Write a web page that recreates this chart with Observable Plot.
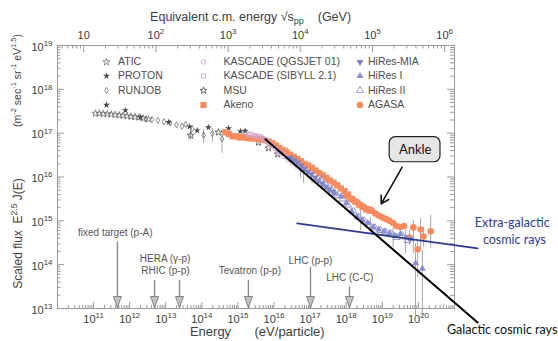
<!DOCTYPE html>
<html>
<head>
<meta charset="utf-8">
<script src="https://cdn.jsdelivr.net/npm/d3@7"></script>
<script src="https://cdn.jsdelivr.net/npm/@observablehq/plot@0.6"></script>
<style>
html,body{margin:0;padding:0;background:#fff;}
#chart svg{display:block;}
#chart svg text{white-space:pre;}
</style>
</head>
<body>
<div id="chart"></div>
<script>
// ---- data: [log10 E (eV), log10 (E^2.5 J)] ----
const atic = [[11.05,17.45],[11.16,17.45],[11.27,17.44],[11.38,17.44],[11.49,17.43],[11.60,17.42],[11.71,17.41],[11.82,17.40],[11.93,17.39],[12.04,17.38],[12.15,17.37],[12.26,17.36],[12.37,17.34],[12.52,17.32]];
const proton = [[11.88,17.52],[12.30,17.36],[13.08,17.25],[13.66,17.15],[13.87,17.06]];
const runjob = [[12.45,17.33],[12.62,17.31],[12.78,17.29],[12.95,17.26],[13.12,17.23],[13.30,17.19],[13.45,17.16],[13.55,17.20],[13.73,17.10],[14.05,16.95],[14.29,16.99],[14.56,16.87]];
const tibet = [[14.18,17.13],[14.74,17.11],[15.07,17.04],[15.20,17.05]];
const msu = [[13.69,16.95],[14.46,17.02],[15.57,16.79],[15.85,16.66],[16.10,16.52]];
const kascadeQ = [[15.26,16.99],[15.38,16.98],[15.50,16.95],[15.62,16.93],[15.74,16.86],[15.86,16.78],[15.98,16.69],[16.10,16.61],[16.22,16.53],[16.34,16.45],[16.46,16.38],[16.58,16.31],[16.70,16.24],[16.82,16.19]];
const kascadeS = [[15.32,16.96],[15.44,16.94],[15.56,16.92],[15.68,16.89],[15.80,16.82],[15.92,16.73],[16.04,16.64],[16.16,16.55],[16.28,16.47],[16.40,16.40],[16.52,16.32],[16.64,16.25],[16.76,16.18],[16.88,16.12]];
const akeno = [[14.65,17.02],[14.75,16.98],[14.85,16.93],[14.95,16.93],[15.05,16.90],[15.15,16.91],[15.25,16.89],[15.35,16.88],[15.45,16.88],[15.55,16.87],[15.65,16.86],[15.75,16.84],[15.85,16.81],[15.95,16.77],[16.05,16.72],[16.15,16.66],[16.25,16.61],[16.35,16.56],[16.45,16.51],[16.55,16.46],[16.65,16.41],[16.75,16.36],[16.85,16.30],[16.95,16.26],[17.05,16.21],[17.15,16.15],[17.25,16.09],[17.35,16.04],[17.45,15.98],[17.55,15.92],[17.65,15.87],[17.75,15.81],[17.85,15.74],[17.95,15.68],[18.05,15.60],[18.15,15.50],[18.25,15.44],[18.35,15.37],[18.45,15.32],[18.55,15.26],[18.65,15.23]];
const hiresMIA = [[16.46,16.44],[16.56,16.38],[16.65,16.33],[16.75,16.26],[16.84,16.19],[16.94,16.12],[17.04,16.06],[17.14,15.99],[17.23,15.92],[17.33,15.85],[17.43,15.78],[17.52,15.72],[17.62,15.67]];
const hiresI = [[17.70,15.62],[17.85,15.55],[18.00,15.40],[18.15,15.22],[18.30,15.10],[18.45,15.02],[18.60,14.95],[18.75,14.86],[18.90,14.80],[19.05,14.76],[19.20,14.72],[19.35,14.66],[19.50,14.70],[19.65,14.62],[19.80,14.58],[19.92,14.03],[20.11,13.91]];
const hiresII = [[17.30,15.95],[17.45,15.82],[17.60,15.70],[17.75,15.58],[17.90,15.50],[18.05,15.36],[18.20,15.22],[18.35,15.08],[18.50,15.00],[18.65,14.90],[18.80,14.84],[18.95,14.78],[19.10,14.74],[19.25,14.70],[19.40,14.62],[19.55,14.67],[19.70,14.55]];
const agasa = [[18.00,15.58],[18.10,15.52],[18.20,15.47],[18.30,15.42],[18.40,15.36],[18.50,15.31],[18.60,15.27],[18.70,15.24],[18.80,15.17],[18.90,15.12],[19.00,15.08],[19.10,15.04],[19.20,15.00],[19.30,14.95],[19.40,14.88],[19.50,14.86],[19.60,14.88],[19.75,14.62],[19.86,14.85],[19.98,14.35],[20.06,14.80],[20.14,14.64],[20.34,14.76]];
// error bars: [log10 E, low, high]
const errorBars = [[13.69,16.83,17.13],[14.05,16.76,17.08],[14.29,16.79,17.11],[14.56,16.54,17.06],[16.37,16.42,16.67],[16.73,15.97,16.42],[16.82,15.85,16.15],[17.05,15.85,16.20],[18.40,14.78,15.24],[18.67,14.71,15.08],[19.30,14.39,14.85],[19.64,14.25,14.78],[19.75,14.44,14.78],[19.86,14.25,15.01],[19.92,12.68,14.48],[19.98,13.71,14.55],[20.06,14.39,15.05],[20.11,12.80,14.32],[20.14,14.40,14.85],[20.34,14.37,15.12]];
// model lines
const galacticLine = [[15.76,16.86],[21.64,12.68]];
const extraGalacticLine = [[16.64,14.94],[21.64,14.37]];
// accelerator arrows: log10 E and arrow top (log10 flux)
const accelNames = ["fixed target (p-A)","HERA (γ-p)","RHIC (p-p)","Tevatron (p-p)","LHC (p-p)","LHC (C-C)"];
const accelE = [11.66,12.69,13.38,15.29,17.01,18.09];
const accelTop = [14.51,13.64,13.64,13.64,13.94,13.49];
// tick labels
const xTickExp = [10,11,12,13,14,15,16,17,18,19,20,21];
const xLabelExp = [11,12,13,14,15,16,17,18,19,20];
const yTickExp = [13,14,15,16,17,18,19];
const topTickGeV = [10,100,1e3,1e4,1e5,1e6];
const topTickLabels = ["10","10^{2}","10^{3}","10^{4}","10^{5}","10^{6}"];
const mProton = 0.938; // GeV

// ---- helpers ----
const L = a => a.map(([lx, ly]) => ({E: 10 ** lx, F: 10 ** ly}));
const topE = g => g * g / (2 * mProton) * 1e9;
const mult = [2,3,4,5,6,7,8,9];
const xMinor = xTickExp.slice(0,-1).flatMap(k => mult.map(m => m * 10 ** k));
const yMinor = yTickExp.slice(0,-1).flatMap(k => mult.map(m => m * 10 ** k));
const topMinor = [5,6,7,8,9, ...[1,2,3,4,5].flatMap(k => mult.map(m => m * 10 ** k))].map(topE);

const W = 558, H = 341, MT = 45, MR = 104, MB = 33, ML = 57;
const FW = W - ML - MR, FH = H - MT - MB;

const triDown = {draw(ctx, size) {
  const y = -Math.sqrt(size / (Math.sqrt(3) * 3));
  ctx.moveTo(0, -y * 2); ctx.lineTo(-Math.sqrt(3) * y, y); ctx.lineTo(Math.sqrt(3) * y, y); ctx.closePath();
}};
const arrowHead = {draw(ctx) { ctx.moveTo(0, -1); ctx.lineTo(-4, -12); ctx.lineTo(4, -12); ctx.closePath(); }};

const ORANGE = "#f58b5f", LILAC = "#cfa6d8", GRAY = "#6f6f6f", DARK = "#4a4a4a";
const S = {
  atic:   {symbol: "star", fill: "none", stroke: GRAY, strokeWidth: 0.8, r: 2.2},
  proton: {symbol: "star", fill: DARK, r: 2.2},
  runjob: {symbol: "diamond", fill: "none", stroke: GRAY, strokeWidth: 0.8, r: 1.9},
  tibet:  {symbol: "star", fill: DARK, r: 2.2},
  kq:     {symbol: "circle", fill: "none", stroke: LILAC, strokeWidth: 0.9, r: 2.2},
  ks:     {symbol: "square", fill: "none", stroke: LILAC, strokeWidth: 0.9, r: 2.3},
  msu:    {symbol: "star", fill: "none", stroke: DARK, strokeWidth: 0.8, r: 2.2},
  akeno:  {symbol: "square", fill: ORANGE, r: 3.5},
  mia:    {symbol: triDown, fill: "#7d82c6", r: 2.6},
  hr1:    {symbol: "triangle", fill: "#8a8ed0", r: 2.6},
  hr2:    {symbol: "triangle", fill: "none", stroke: "#8a8ed0", strokeWidth: 0.9, r: 2.6},
  agasa:  {symbol: "circle", fill: ORANGE, r: 3.3}
};

const legend = [
  {dx: 49, tx: 60.5, rows: [["ATIC", S.atic], ["PROTON", S.proton], ["RUNJOB", S.runjob], ["", S.tibet]]},
  {dx: 146, tx: 166, rows: [["KASCADE (QGSJET 01)", S.kq], ["KASCADE (SIBYLL 2.1)", S.ks], ["MSU", S.msu], ["Akeno", S.akeno]]},
  {dx: 302.5, tx: 310.5, rows: [["HiRes-MIA", S.mia], ["HiRes I", S.hr1], ["HiRes II", S.hr2], ["AGASA", S.agasa]]}
];
const legendRowDy = [16.5, 30.5, 45, 59.5];

// annotation placements (data units, log10)
const ankleBox = {x1: 10 ** 19.205, x2: 10 ** 20.612, y1: 10 ** 16.337, y2: 10 ** 16.908};
const ankleText = {x: 10 ** 19.911, y: 10 ** 16.623};
const ankleArrow = {x1: 10 ** 19.551, y1: 10 ** 16.223, x2: 10 ** 18.969, y2: 10 ** 15.388};
const accelLabelPos = [[11.60,14.72],[12.98,14.13],[12.99,13.85],[15.33,13.85],[17.01,14.09],[18.10,13.69]];

const tickStroke = "#9a9a9a", labelFill = "#3a3a3a";
const dotMark = (arr, st) => Plot.dot(L(arr), {x: "E", y: "F", ...st});

const legendMarks = legend.flatMap(col => col.rows.flatMap(([name, st], i) => [
  Plot.dot([0], {frameAnchor: "top-left", dx: col.dx, dy: legendRowDy[i], ...st}),
  Plot.text([name], {frameAnchor: "top-left", dx: col.tx, dy: legendRowDy[i], text: d => d, textAnchor: "start", lineAnchor: "middle", fontSize: 10.5, fill: "#4d4d4d"})
]));

const chart = Plot.plot({
  width: W, height: H,
  marginTop: MT, marginRight: MR, marginBottom: MB, marginLeft: ML,
  style: {fontFamily: "'Liberation Sans', Arial, sans-serif", background: "#fff", overflow: "visible"},
  x: {type: "log", domain: [1e10, 1e21], axis: null},
  y: {type: "log", domain: [1e13, 1e19], axis: null},
  marks: [
    Plot.frame({stroke: tickStroke}),
    // ticks (inward)
    Plot.ruleX(xTickExp.map(k => 10 ** k), {x: d => d, insetTop: FH - 6, stroke: tickStroke}),
    Plot.ruleX(xMinor, {x: d => d, insetTop: FH - 3, stroke: tickStroke}),
    Plot.ruleX(topTickGeV.map(topE), {x: d => d, insetBottom: FH - 7, stroke: tickStroke}),
    Plot.ruleX(topMinor, {x: d => d, insetBottom: FH - 3.5, stroke: tickStroke}),
    Plot.ruleY(yTickExp.map(k => 10 ** k), {y: d => d, insetRight: FW - 7, stroke: tickStroke}),
    Plot.ruleY(yMinor, {y: d => d, insetRight: FW - 3.5, stroke: tickStroke}),
    Plot.ruleY(yTickExp.map(k => 10 ** k), {y: d => d, insetLeft: FW - 7, stroke: tickStroke}),
    Plot.ruleY(yMinor, {y: d => d, insetLeft: FW - 4, stroke: tickStroke}),
    // tick labels
    Plot.text(xLabelExp, {x: k => 10 ** k, frameAnchor: "bottom", dy: 11, lineAnchor: "middle", text: k => `10^{${k}}`, fontSize: 11, fill: labelFill}),
    Plot.text(yTickExp, {y: k => 10 ** k, frameAnchor: "left", dx: -5, dy: 1.5, lineAnchor: "middle", text: k => `10^{${k}}`, textAnchor: "end", fontSize: 11, fill: labelFill}),
    Plot.text(topTickGeV.map((g, i) => ({g, t: topTickLabels[i]})), {x: d => topE(d.g), frameAnchor: "top", dy: -10, lineAnchor: "middle", text: "t", fontSize: 11, fill: labelFill}),
    // axis titles
    Plot.text(["Equivalent c.m. energy √s_{pp}    (GeV)"], {x: [10 ** 15.35], frameAnchor: "top", dy: -29, lineAnchor: "middle", text: d => d, fontSize: 12.5, fill: "#404040"}),
    Plot.text(["Energy"], {x: [10 ** 14.24], frameAnchor: "bottom", dy: 23.5, lineAnchor: "middle", text: d => d, fontSize: 13, fill: "#404040"}),
    Plot.text(["(eV/particle)"], {x: [10 ** 16.43], frameAnchor: "bottom", dy: 23.5, lineAnchor: "middle", text: d => d, fontSize: 13, fill: "#404040"}),
    Plot.text(["Scaled flux  E^{2.5} J(E)"], {frameAnchor: "left", dx: -39.5, dy: 56.5, rotate: -90, textAnchor: "middle", lineAnchor: "middle", text: d => d, fontSize: 12, fill: "#404040"}),
    Plot.text(["(m^{-2} sec^{-1} sr^{-1} eV^{1.5})"], {frameAnchor: "left", dx: -40, dy: -96.5, rotate: -90, textAnchor: "middle", lineAnchor: "middle", text: d => d, fontSize: 10.5, fill: "#404040"}),
    // error bars
    Plot.ruleX(errorBars.map(([lx, lo, hi]) => ({E: 10 ** lx, lo: 10 ** lo, hi: 10 ** hi})), {x: "E", y1: "lo", y2: "hi", stroke: "#a5a5a5", strokeWidth: 1}),
    // data
    dotMark(atic, S.atic),
    dotMark(runjob, S.runjob),
    dotMark(proton, S.proton),
    dotMark(tibet, S.tibet),
    dotMark(msu, S.msu),
    dotMark(akeno, S.akeno),
    dotMark(agasa, S.agasa),
    dotMark(kascadeQ, S.kq),
    dotMark(kascadeS, S.ks),
    dotMark(hiresMIA, S.mia),
    dotMark(hiresII, S.hr2),
    dotMark(hiresI, S.hr1),
    // model lines
    Plot.line(L(extraGalacticLine), {x: "E", y: "F", stroke: "#2d3a8c", strokeWidth: 1.8}),
    Plot.line(L(galacticLine), {x: "E", y: "F", stroke: "#000", strokeWidth: 2}),
    // accelerator arrows
    Plot.ruleX(accelE.map((e, i) => ({E: 10 ** e, top: 10 ** accelTop[i]})), {x: "E", y1: "top", y2: 1e13, stroke: "#8a8a8a", strokeWidth: 1.4}),
    Plot.dot(accelE, {x: e => 10 ** e, y: 1e13, symbol: arrowHead, r: 3, fill: "#c2c2c2", stroke: "#7a7a7a", strokeWidth: 0.9}),
    Plot.text(accelNames.map((n, i) => ({n, p: accelLabelPos[i]})), {x: d => 10 ** d.p[0], y: d => 10 ** d.p[1], text: "n", lineAnchor: "middle", fontSize: 10, fill: "#555"}),
    // annotations
    Plot.rect([ankleBox], {x1: "x1", x2: "x2", y1: "y1", y2: "y2", rx: 6, fill: "#e6e6e6", stroke: "#222", strokeWidth: 1.2}),
    Plot.text(["Ankle"], {x: [ankleText.x], y: [ankleText.y], text: d => d, lineAnchor: "middle", fontFamily: "Lato, 'Noto Sans', sans-serif", fontSize: 13, fill: "#111"}),
    Plot.arrow([ankleArrow], {x1: "x1", y1: "y1", x2: "x2", y2: "y2", stroke: "#111", strokeWidth: 1.6, headLength: 8}),
    Plot.text(["Extra-galactic", "cosmic rays"], {x: [10 ** 22.6, 10 ** 22.66], y: [10 ** 14.94, 10 ** 14.574], text: d => d, lineAnchor: "middle", fontFamily: "Lato, 'Noto Sans', sans-serif", fontSize: 12.5, fill: "#2d3a8c"}),
    Plot.text(["Galactic cosmic rays"], {x: [10 ** 22.32], y: [10 ** 12.50], text: d => d, lineAnchor: "middle", fontFamily: "Lato, 'Noto Sans', sans-serif", fontSize: 12.5, fill: "#111"}),
    ...legendMarks
  ]
});
document.getElementById("chart").appendChild(chart);

// rich text: ^{..} superscripts and _{..} subscripts
chart.querySelectorAll("text").forEach(el => {
  if (el.querySelector("tspan")) return;
  const s = el.textContent;
  if (!/[\^_]\{/.test(s)) return;
  const fs = parseFloat(getComputedStyle(el).fontSize) || 11;
  el.textContent = "";
  let off = 0;
  for (const p of s.split(/([\^_]\{[^}]*\})/)) {
    if (!p) continue;
    const t = document.createElementNS("http://www.w3.org/2000/svg", "tspan");
    let target = 0, size = fs, txt = p;
    if (p.startsWith("^{")) { target = -0.42 * fs; size = 0.72 * fs; txt = p.slice(2, -1); }
    else if (p.startsWith("_{")) { target = 0.28 * fs; size = 0.72 * fs; txt = p.slice(2, -1); }
    t.setAttribute("dy", target - off); off = target;
    t.setAttribute("font-size", size);
    t.textContent = txt;
    el.appendChild(t);
  }
});
</script>
</body>
</html>
